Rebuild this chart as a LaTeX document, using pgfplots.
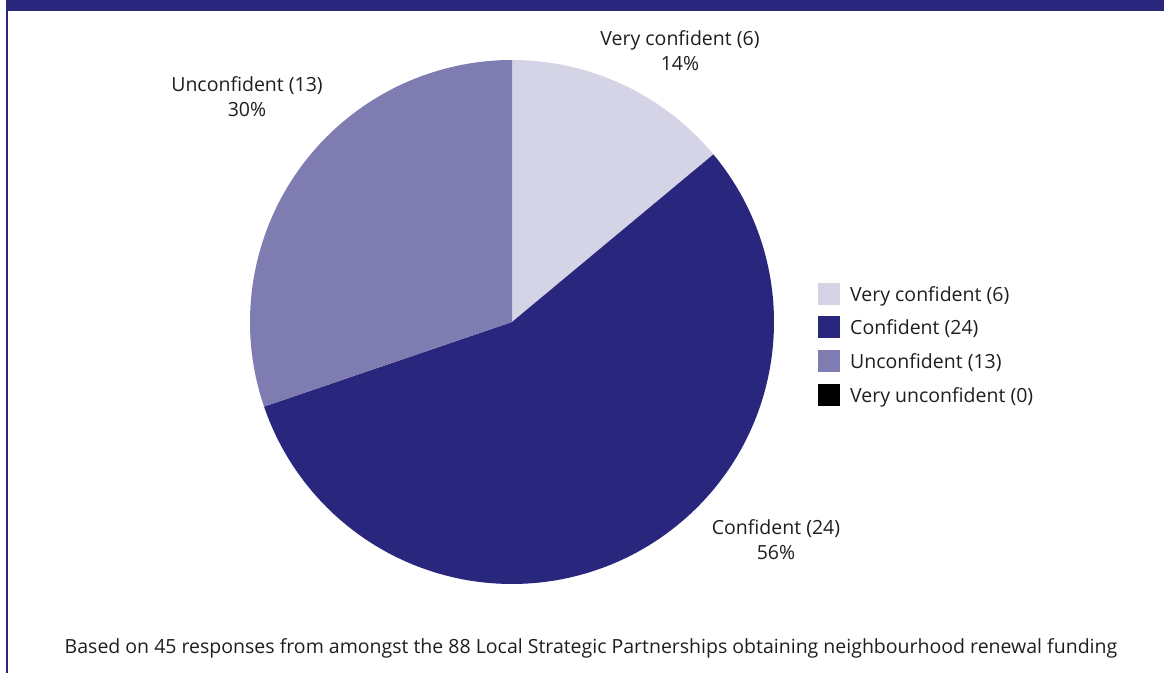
\documentclass[border=0pt]{standalone}
\usepackage{pgfplots}
\pgfplotsset{compat=1.18}
\usepackage{pgfplotstable}
\usepackage{fontspec}
\setmainfont{Open Sans}
\definecolor{navy}{HTML}{29267D}
\definecolor{pielight}{HTML}{D5D4E7}
\definecolor{piemid}{HTML}{7E7CB0}
\definecolor{txt}{HTML}{1E1E1E}

% responses per answer
\pgfplotstableread[col sep=comma]{
label,value
Very confident,6
Confident,24
Unconfident,13
Very unconfident,0
}\piedata

\begin{document}
\begin{tikzpicture}[font=\fontsize{19.5}{25}\selectfont, text=txt]
\pgfplotstablegetelem{0}{value}\of\piedata \let\va\pgfplotsretval
\pgfplotstablegetelem{1}{value}\of\piedata \let\vb\pgfplotsretval
\pgfplotstablegetelem{2}{value}\of\piedata \let\vc\pgfplotsretval
\pgfplotstablegetelem{3}{value}\of\piedata \let\vd\pgfplotsretval
\pgfmathsetmacro\total{\va+\vb+\vc+\vd}
% slice boundaries, clockwise from the top
\pgfmathsetmacro\aA{90}
\pgfmathsetmacro\aB{\aA-360*\va/\total}
\pgfmathsetmacro\aC{\aB-360*\vb/\total}
\pgfmathsetmacro\aD{\aC-360*\vc/\total}
\pgfmathtruncatemacro\pa{round(100*\va/\total)}
\pgfmathtruncatemacro\pb{round(100*\vb/\total)}
\pgfmathtruncatemacro\pc{round(100*\vc/\total)}
\def\R{262pt}
\begin{axis}[at={(0,0)}, anchor=south west, scale only axis,
    width=1164pt, height=673pt,
    xmin=0, xmax=1164, ymin=0, ymax=673,
    hide axis, clip=false]
  % frame bits
  \fill[navy] (axis cs:6,662) rectangle (axis cs:1164,673);
  \fill[navy] (axis cs:6,0) rectangle (axis cs:7.6,673);

  % pie
  \fill[pielight] (axis cs:512,351) -- ([shift={(\aA:\R)}]axis cs:512,351)
      arc[start angle=\aA, end angle=\aB, radius=\R] -- cycle;
  \fill[navy] (axis cs:512,351) -- ([shift={(\aB:\R)}]axis cs:512,351)
      arc[start angle=\aB, end angle=\aC, radius=\R] -- cycle;
  \fill[piemid] (axis cs:512,351) -- ([shift={(\aC:\R)}]axis cs:512,351)
      arc[start angle=\aC, end angle=\aD, radius=\R] -- cycle;

  % slice labels
  \node[align=center] at (axis cs:680,622.5) {Very confident (\va)\\\pa\%};
  \node[align=center] at (axis cs:776,133.5) {Confident (\vb)\\\pb\%};
  \node[align=center] at (axis cs:247,576) {Unconfident (\vc)\\\pc\%};

  % legend
  \fill[pielight] (axis cs:818,368) rectangle (axis cs:840,390);
  \fill[navy] (axis cs:818,335) rectangle (axis cs:840,357);
  \fill[piemid] (axis cs:818,301) rectangle (axis cs:840,323);
  \fill[black] (axis cs:818,267) rectangle (axis cs:840,289);
  \node[anchor=west, inner sep=0pt] at (axis cs:850,377) {Very confident (\va)};
  \node[anchor=west, inner sep=0pt] at (axis cs:850,344) {Confident (\vb)};
  \node[anchor=west, inner sep=0pt] at (axis cs:850,310) {Unconfident (\vc)};
  \node[anchor=west, inner sep=0pt] at (axis cs:850,276) {Very unconfident (\vd)};

  \node at (axis cs:591,25) {Based on 45 responses from amongst the 88 Local Strategic Partnerships obtaining neighbourhood renewal funding};
\end{axis}
\pgfresetboundingbox
\path (0,0) rectangle (1164pt,673pt);
\end{tikzpicture}
\end{document}
